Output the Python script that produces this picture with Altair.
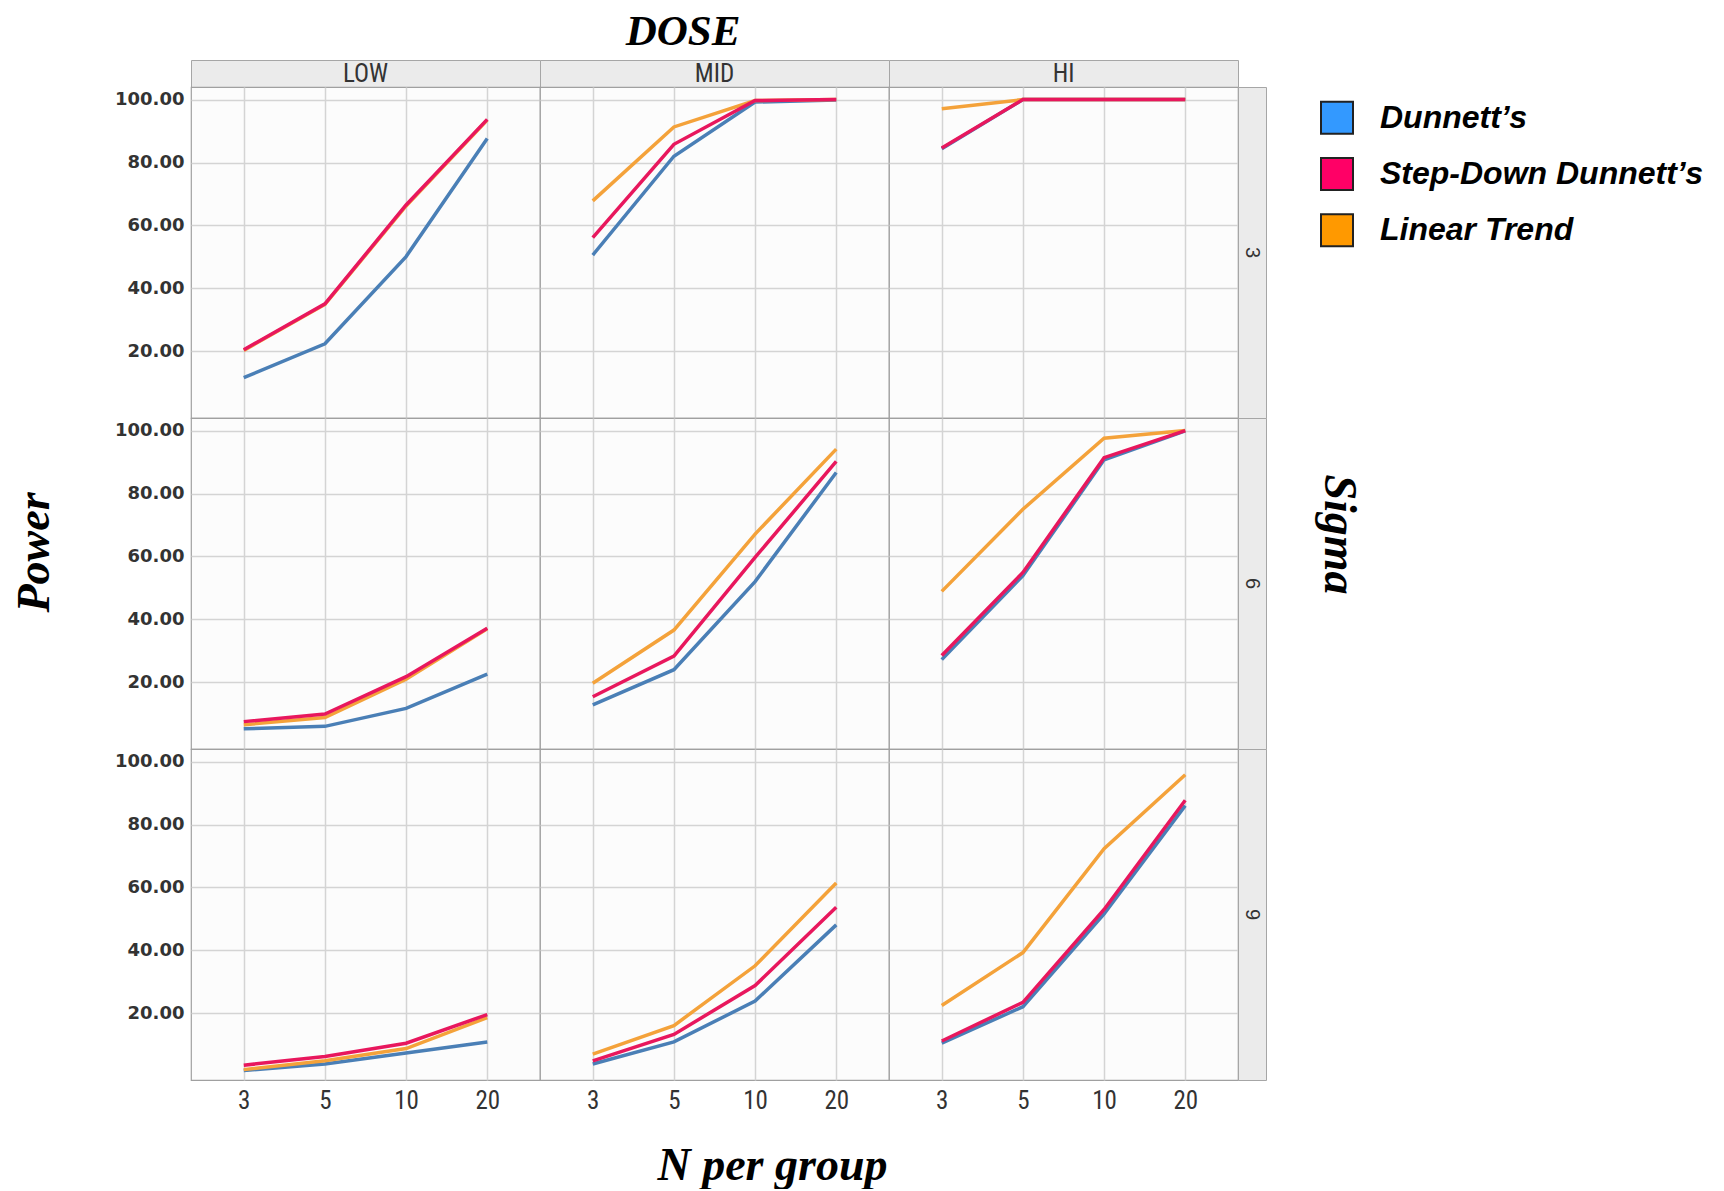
import altair as alt
import pandas as pd

doses = ["LOW", "MID", "HI"]
sigmas = [3, 6, 9]
n_per_group = [3, 5, 10, 20]
methods = ["Dunnett’s", "Step-Down Dunnett’s", "Linear Trend"]

# Power values, keyed "DOSE-sigma", one value per N per group (3, 5, 10, 20)
dunnett_power = {
    "LOW-3": [11.6, 22.4, 50.1, 87.6],
    "MID-3": [50.6, 82.0, 99.2, 99.9],
    "HI-3": [84.4, 100.0, 100.0, 100.0],
    "LOW-6": [5.2, 6.0, 11.7, 22.6],
    "MID-6": [12.8, 24.0, 52.0, 86.7],
    "HI-6": [27.2, 53.9, 90.7, 99.9],
    "LOW-9": [1.8, 3.9, 7.4, 10.9],
    "MID-9": [3.9, 10.9, 23.9, 48.1],
    "HI-9": [10.5, 22.1, 51.6, 86.0],
}
stepdown_power = {
    "LOW-3": [20.5, 35.1, 66.5, 93.7],
    "MID-3": [56.1, 85.8, 99.7, 100.0],
    "HI-3": [84.6, 100.0, 100.0, 100.0],
    "LOW-6": [7.5, 9.9, 21.8, 37.2],
    "MID-6": [15.4, 28.3, 59.7, 90.2],
    "HI-6": [28.5, 54.9, 91.4, 100.0],
    "LOW-9": [3.5, 6.3, 10.5, 19.6],
    "MID-9": [4.9, 13.3, 28.8, 53.7],
    "HI-9": [11.2, 23.5, 53.0, 87.7],
}
linear_power = {
    "LOW-3": [20.3, 34.9, 66.2, 93.5],
    "MID-3": [67.8, 91.3, 99.7, 100.0],
    "HI-3": [97.1, 100.0, 100.0, 100.0],
    "LOW-6": [6.5, 8.8, 21.0, 37.0],
    "MID-6": [19.7, 36.6, 67.1, 94.1],
    "HI-6": [48.9, 75.0, 97.6, 100.0],
    "LOW-9": [2.1, 4.9, 8.8, 18.6],
    "MID-9": [7.0, 16.1, 35.1, 61.4],
    "HI-9": [22.5, 39.3, 72.3, 95.8],
}
y_ticks = [20, 40, 60, 80, 100]

line_colors = ["#4a7fb6", "#e8175d", "#f4a23a"]
legend_colors = ["#3399ff", "#ff0066", "#ff9900"]

rows = []
for m, table in zip(methods, [dunnett_power, stepdown_power, linear_power]):
    for key, vals in table.items():
        dose, sig = key.split("-")
        for n, v in zip(n_per_group, vals):
            rows.append({"method": m, "dose": dose, "sigma": int(sig), "n": n, "power": v})
df = pd.DataFrame(rows)

PW, PH, STRIP = 349, 331, 28
HDR_H = 27
LEG_W = 440
NARROW = "Liberation Sans Narrow, Roboto Condensed, Liberation Sans, sans-serif"
SERIF = "Liberation Serif"
draw_order = [methods[0], methods[2], methods[1]]

color_scale = alt.Scale(domain=methods, range=line_colors)
CLEAR = alt.ViewBackground(fill="transparent", stroke="transparent")


def panel(dose, sigma, r, c):
    xkw = dict(ticks=False, tickSize=0, domain=False, grid=True, labels=(r == 2),
               labelFont=NARROW, labelFontSize=25, labelColor="#333", labelPadding=8,
               labelAngle=0, title="")
    if r == 2 and c == 1:
        xkw.update(title="N per group", titleFont=SERIF, titleFontSize=46,
                   titleFontWeight="bold", titleFontStyle="italic", titleColor="black",
                   titlePadding=30, titleX=232)
    ykw = dict(values=y_ticks, format=".2f", ticks=False, tickSize=0, domain=False,
               grid=True, labels=(c == 0), labelFont="DejaVu Sans", labelFontSize=18,
               labelFontWeight="bold", labelColor="#333", labelPadding=7, title="")
    if c == 0 and r == 1:
        ykw.update(title="Power", titleFont=SERIF, titleFontSize=46,
                   titleFontWeight="bold", titleFontStyle="italic", titleColor="black",
                   titlePadding=56, titleY=134)
    x = alt.X("n:O", scale=alt.Scale(domain=n_per_group, padding=0.65), axis=alt.Axis(**xkw))
    y = alt.Y("power:Q", scale=alt.Scale(domain=[-1.2, 104], nice=False, zero=False),
              axis=alt.Axis(**ykw))
    base = alt.Chart(df).transform_filter(
        (alt.datum.dose == dose) & (alt.datum.sigma == sigma))
    layers = []
    for m in draw_order:
        layers.append(
            base.transform_filter(alt.datum.method == m)
            .mark_line(strokeWidth=3.5)
            .encode(x=x, y=y, color=alt.Color("method:N", scale=color_scale, legend=None))
        )
    return alt.layer(*layers).properties(width=PW, height=PH)


def col_header(dose):
    return (
        alt.Chart(pd.DataFrame({"dose": [dose]}))
        .mark_text(font=NARROW, fontSize=25, color="#333")
        .encode(text="dose:N")
        .properties(width=PW, height=HDR_H,
                    view=alt.ViewBackground(fill="#ebebeb", stroke="#a6a6a6", strokeWidth=1))
    )


def row_header(sigma, r):
    if r == 1:
        ax = alt.Axis(orient="right", labels=False, ticks=False, domain=False, grid=False,
                      title="Sigma", titleFont=SERIF, titleFontSize=46, titleFontWeight="bold",
                      titleFontStyle="italic", titleColor="black", titleAngle=90,
                      titlePadding=48, titleY=116)
        yenc = alt.Y("sigma:N", axis=ax)
    else:
        yenc = alt.Y("sigma:N", axis=None)
    return (
        alt.Chart(pd.DataFrame({"sigma": [str(sigma)]}))
        .mark_text(font="Liberation Sans", fontSize=20, color="#333", angle=90)
        .encode(text="sigma:N", y=yenc)
        .properties(width=STRIP, height=PH,
                    view=alt.ViewBackground(fill="#ebebeb", stroke="#a6a6a6", strokeWidth=1))
    )


def empty(w, h):
    return (
        alt.Chart(pd.DataFrame({"a": [0]}))
        .mark_text()
        .encode(text=alt.value(""))
        .properties(width=w, height=h, view=CLEAR)
    )


# legend built from the method names and the legend colours
legend_df = pd.DataFrame({"method": methods})
leg_y = alt.Y("method:N", sort=methods, axis=None,
              scale=alt.Scale(domain=methods, padding=0.55))
leg_squares = (
    alt.Chart(legend_df)
    .mark_square(size=1024, stroke="#222", strokeWidth=2, opacity=1)
    .encode(y=leg_y, x=alt.value(71),
            fill=alt.Fill("method:N", scale=alt.Scale(domain=methods, range=legend_colors),
                          legend=None))
)
leg_text = (
    alt.Chart(legend_df)
    .mark_text(align="left", baseline="middle", font="Liberation Sans", fontSize=32,
               fontWeight="bold", fontStyle="italic", color="black")
    .encode(y=leg_y, x=alt.value(114), text="method:N")
)
legend_chart = alt.layer(leg_squares, leg_text).properties(width=LEG_W, height=174, view=CLEAR)

cells = [col_header(d) for d in doses] + [empty(STRIP, HDR_H), empty(1, 1)]
for r, s in enumerate(sigmas):
    for c, d in enumerate(doses):
        cells.append(panel(d, s, r, c))
    cells.append(row_header(s, r))
    cells.append(legend_chart if r == 0 else empty(1, 1))

chart = (
    alt.concat(*cells, columns=5, spacing=0, bounds="flush")
    .properties(
        title=alt.TitleParams("DOSE", font=SERIF, fontSize=43, fontWeight="bold",
                              fontStyle="italic", color="black", anchor="middle",
                              frame="group", dx=492, offset=0),
        padding={"left": 2, "top": 3, "right": 4, "bottom": 0},
    )
    .configure_view(stroke="#a0a0a0", strokeWidth=1.2, fill="#fcfcfc")
    .configure_axis(gridColor="#d4d4d4", gridWidth=1.5)
)

chart.save("out.html", embed_options={"renderer": "svg", "actions": False})
